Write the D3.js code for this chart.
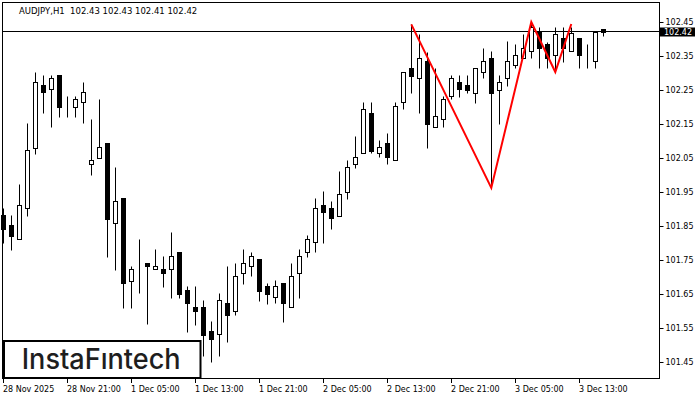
<!DOCTYPE html>
<html><head><meta charset="utf-8">
<script src="https://cdn.jsdelivr.net/npm/d3@7"></script>
<style>body{margin:0;background:#fff;overflow:hidden}</style>
</head><body><svg id="c" width="700" height="400"></svg>
<script>
const title = "AUDJPY,H1  102.43 102.43 102.41 102.42";
const currentPrice = 102.42;
const opens  = [101.882,101.853,101.811,101.902,102.080,102.265,102.252,102.294,102.214,102.201,102.214,102.031,102.051,102.093,101.860,101.932,101.689,101.731,101.740,101.723,101.724,101.723,101.774,101.662,101.612,101.612,101.541,101.531,101.623,101.601,101.711,101.732,101.752,101.673,101.640,101.681,101.611,101.711,101.774,101.802,101.912,101.902,101.880,101.951,102.031,102.064,102.181,102.064,102.093,102.043,102.214,102.315,102.284,102.335,102.142,102.164,102.231,102.273,102.265,102.242,102.302,102.344,102.251,102.284,102.323,102.343,102.364,102.421,102.384,102.353,102.402,102.365,102.402,102.343,102.334,102.43];
const highs  = [101.903,101.882,101.974,102.154,102.302,102.294,102.294,102.295,102.232,102.232,102.273,102.164,102.223,102.093,102.023,101.932,101.732,101.811,101.740,101.781,101.762,101.831,101.774,101.673,101.673,101.632,101.571,101.652,101.732,101.742,101.781,101.774,101.752,101.683,101.691,101.681,101.742,101.781,101.824,101.931,101.953,101.924,102.012,102.044,102.115,102.215,102.215,102.103,102.123,102.215,102.303,102.443,102.414,102.363,102.314,102.232,102.294,102.294,102.294,102.314,102.374,102.365,102.294,102.394,102.385,102.415,102.447,102.435,102.392,102.435,102.434,102.435,102.402,102.384,102.421,102.43];
const lows   = [101.800,101.779,101.811,101.880,102.063,102.181,102.142,102.171,102.171,102.171,102.152,102.000,102.051,101.760,101.721,101.608,101.610,101.652,101.561,101.723,101.672,101.639,101.639,101.539,101.559,101.469,101.451,101.469,101.510,101.588,101.679,101.703,101.630,101.621,101.623,101.569,101.611,101.639,101.760,101.773,101.801,101.841,101.880,101.930,102.021,102.064,102.064,102.052,102.031,102.043,102.193,102.242,102.181,102.080,102.142,102.142,102.224,102.230,102.242,102.213,102.284,101.962,102.151,102.263,102.314,102.343,102.343,102.314,102.314,102.309,102.333,102.365,102.314,102.314,102.314,102.41];
const closes = [101.841,101.821,101.911,102.074,102.273,102.243,102.284,102.201,102.214,102.223,102.243,102.044,102.081,101.871,101.923,101.681,101.723,101.731,101.731,101.731,101.711,101.761,101.651,101.623,101.601,101.529,101.518,101.632,101.589,101.703,101.740,101.761,101.660,101.651,101.673,101.623,101.703,101.762,101.812,101.902,101.892,101.873,101.943,102.024,102.053,102.193,102.071,102.081,102.052,102.203,102.303,102.292,102.343,102.151,102.173,102.224,102.284,102.252,102.251,102.314,102.334,102.242,102.273,102.334,102.352,102.373,102.435,102.373,102.343,102.414,102.373,102.417,102.352,102.343,102.421,102.42];
const timeLabels = ["28 Nov 2025","28 Nov 21:00","1 Dec 05:00","1 Dec 13:00","1 Dec 21:00","2 Dec 05:00","2 Dec 13:00","2 Dec 21:00","3 Dec 05:00","3 Dec 13:00"];
const timeLabelIndex = [0,8,16,24,32,40,48,56,64,72];
const priceTicks = [102.45,102.35,102.25,102.15,102.05,101.95,101.85,101.75,101.65,101.55,101.45];
const patternIndex = [51,61,66,69,71];
const patternPrice = [102.443,101.962,102.450,102.303,102.444];
const logoText = "InstaF\u0131ntech";

const svg = d3.select("#c");
const x = d3.scaleLinear().domain([0, 75]).range([3.3, 603.3]);
const y = d3.scaleLinear().domain([101.45, 102.45]).range([362, 22]);
const sx = i => Math.round(x(i)) + 0.5;
const sy = v => Math.round(y(v)) + 0.5;
const fontAxis = "DejaVu Sans, Verdana, sans-serif";

// current price line
svg.append("line").attr("x1", 3).attr("x2", 660)
  .attr("y1", Math.floor(y(currentPrice)) - 0.5).attr("y2", Math.floor(y(currentPrice)) - 0.5)
  .attr("stroke", "#000").attr("stroke-width", 1);

// candles
const idx = d3.range(opens.length);
const g = svg.append("g");
idx.forEach(i => {
  const cx = sx(i);
  g.append("line").attr("x1", cx).attr("x2", cx)
    .attr("y1", sy(highs[i])).attr("y2", sy(lows[i]))
    .attr("stroke", "#000").attr("stroke-width", 1);
  const top = sy(Math.max(opens[i], closes[i]));
  const bot = sy(Math.min(opens[i], closes[i]));
  const bull = closes[i] >= opens[i];
  g.append("rect").attr("x", cx - 2).attr("width", 4)
    .attr("y", top).attr("height", Math.max(0, bot - top))
    .attr("fill", bull ? "#fff" : "#000").attr("stroke", "#000").attr("stroke-width", 1);
});

// pattern line
const line = d3.line().x(d => x(d[0])).y(d => y(d[1]));
svg.append("path").datum(patternIndex.map((d, k) => [d, patternPrice[k]]))
  .attr("d", line).attr("fill", "none").attr("stroke", "#ff0000").attr("stroke-width", 2);

// frame
svg.append("rect").attr("x", 2.5).attr("y", 2.5).attr("width", 657).attr("height", 376)
  .attr("fill", "none").attr("stroke", "#000").attr("stroke-width", 1);

// y axis
const ya = svg.append("g").attr("transform", "translate(659.5,0)")
  .call(d3.axisRight(y).tickValues(priceTicks).tickSize(4).tickPadding(2).tickFormat(d3.format(".2f")));
ya.select(".domain").remove();
ya.selectAll("text").attr("font-family", fontAxis).attr("font-size", 8).attr("fill", "#000");
ya.selectAll("line").attr("stroke", "#000");

// current price box
const cpy = y(currentPrice);
svg.append("rect").attr("x", 660).attr("y", Math.round(cpy) - 4.5).attr("width", 35).attr("height", 9).attr("fill", "#000");
svg.append("text").attr("x", 664).attr("y", Math.round(cpy) + 3.2).text(d3.format(".2f")(currentPrice))
  .attr("font-family", fontAxis).attr("font-size", 8).attr("fill", "#fff");

// x axis
const xa = svg.append("g");
timeLabelIndex.forEach((ti, k) => {
  xa.append("line").attr("x1", sx(ti)).attr("x2", sx(ti)).attr("y1", 378.5).attr("y2", 383)
    .attr("stroke", "#000");
  xa.append("text").attr("x", Math.round(x(ti)) + (k === 0 ? 0 : 0)).attr("y", 391.5).text(timeLabels[k])
    .attr("font-family", fontAxis).attr("font-size", 8).attr("fill", "#000");
});

// title
svg.append("text").attr("x", 19).attr("y", 14).attr("xml:space", "preserve").style("white-space", "pre")
  .text(title).attr("font-family", fontAxis).attr("font-size", 8.5).attr("fill", "#000");

// logo
svg.append("rect").attr("x", 4).attr("y", 341).attr("width", 196.5).attr("height", 37)
  .attr("fill", "#fff").attr("stroke", "#000").attr("stroke-width", 2);
svg.append("text").attr("x", 21.7).attr("y", 369.3).text(logoText)
  .attr("font-family", "Inter, Lato, sans-serif").attr("font-weight", 500).attr("font-size", 28)
  .attr("textLength", 159).attr("lengthAdjust", "spacingAndGlyphs").attr("fill", "#1e1e1e");
</script></body></html>
